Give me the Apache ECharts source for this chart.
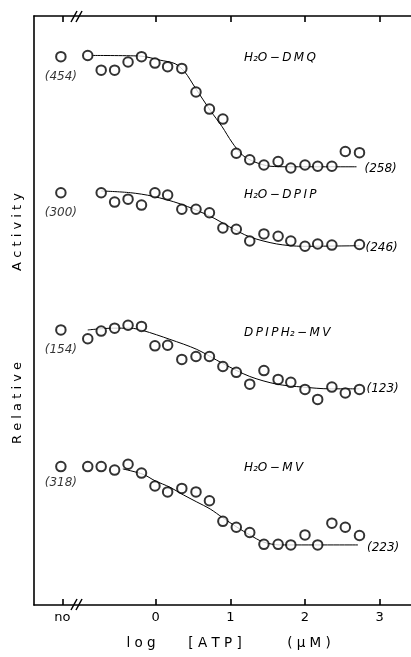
<!DOCTYPE html>
<html><head><meta charset="utf-8">
<script src="https://cdn.jsdelivr.net/npm/echarts@6/dist/echarts.min.js"></script>
<style>html,body{margin:0;padding:0;background:#fff}#c{width:411px;height:657px}</style>
</head><body><div id="c"></div>
<script>
// log[ATP] (µM) of the measured points (shared by all four assays)
const logATP = [-0.91,-0.73,-0.55,-0.37,-0.19,-0.01,0.16,0.35,0.54,0.72,0.90,1.08,1.26,1.45,1.64,1.81,2.00,2.17,2.36,2.54,2.73];
const noATPx = -1.27;
const xTickValues = [-1.25, 0, 1, 2, 3];
const xTickLabels = ['no', '0', '1', '2', '3'];

const seriesNames = ['H\u2082O\u2009\u2212\u2009D\u2009M\u2009Q', 'H\u2082O\u2009\u2212\u2009D\u2009P\u2009I\u2009P', 'D\u2009P\u2009I\u2009P\u2009H\u2082\u2009\u2212\u2009M\u2009V', 'H\u2082O\u2009\u2212\u2009M\u2009V'];
const noATPLabels = ['(454)', '(300)', '(154)', '(318)'];
const endLabels = ['(258)', '(246)', '(123)', '(223)'];
const xNameParts = ['l o g', '[ A T P ]', '( \u00b5 M )'];

// relative activity (arbitrary stacked units, 0-100 of the frame)
const noATPValues = [93.1, 70.0, 46.7, 23.5];
const dmqValues   = [93.3,90.8,90.8,92.2,93.1,92.0,91.4,91.1,87.1,84.2,82.5,76.7,75.6,74.7,75.3,74.2,74.7,74.5,74.5,77.0,76.8];
const dpipValues  = [null,70.0,68.4,68.9,67.9,70.0,69.6,67.2,67.2,66.6,64.0,63.8,61.8,63.0,62.6,61.8,60.9,61.3,61.1,null,61.2];
const mvdValues   = [45.2,46.5,47.0,47.5,47.3,44.0,44.1,41.7,42.2,42.2,40.5,39.5,37.5,39.8,38.3,37.8,36.6,34.9,37.0,36.0,36.6];
const mvValues    = [23.5,23.5,22.9,23.9,22.4,20.2,19.2,19.8,19.2,17.7,14.2,13.2,12.3,10.3,10.3,10.2,11.9,10.2,13.9,13.2,11.8];

// fitted curves
const dmqFitX = [-0.85,-0.21,0.06,0.26,0.39,0.53,0.73,0.89,1.02,1.16,1.33,1.53,1.80,2.69];
const dmqFitY = [93.3,93.2,92.5,91.9,90.5,87.8,84.0,81.2,78.6,76.4,75.2,74.5,74.4,74.4];
const dpipFitX = [-0.73,-0.34,-0.04,0.33,0.73,0.99,1.26,1.62,1.97,2.73];
const dpipFitY = [70.3,70.0,69.4,68.1,66.0,64.2,62.5,61.3,60.9,61.0];
const mvdFitX = [-0.91,-0.57,-0.34,-0.17,0.19,0.55,0.90,1.26,1.62,1.97,2.33,2.73];
const mvdFitY = [46.7,47.0,47.0,46.6,45.1,43.4,41.0,38.8,37.5,37.0,36.7,36.7];
const mvFitX = [-0.44,-0.17,-0.01,0.19,0.37,0.55,0.73,0.90,1.09,1.26,1.44,1.66,2.71];
const mvFitY = [23.1,22.2,21.1,20.0,18.7,17.5,16.3,14.8,13.2,11.9,10.7,10.2,10.2];

const allValues = [dmqValues, dpipValues, mvdValues, mvValues];
const allFitX = [dmqFitX, dpipFitX, mvdFitX, mvFitX];
const allFitY = [dmqFitY, dpipFitY, mvdFitY, mvFitY];
const noLabelDistance = [8, 8, 8, 5];
const endLabelDistance = [8, 6, 7, 9];
const endLabelOffsetY = [2, 2, 0, 3];
const nameY = [58, 195, 333, 468];
const xNameCenters = [141, 215, 309];

const FONT = 'DejaVu Sans';
const chart = echarts.init(document.getElementById('c'), null, {renderer: 'canvas'});

const series = [];
allValues.forEach((vals, k) => {
  series.push({
    type: 'line', data: allFitX[k].map((x, i) => [x, allFitY[k][i]]),
    showSymbol: false, symbol: 'none', smooth: 0.3,
    lineStyle: {color: '#000', width: 1}, z: 2, silent: true,
    endLabel: {show: true, formatter: endLabels[k], distance: endLabelDistance[k], offset: [0, endLabelOffsetY[k]],
      color: '#000', fontStyle: 'italic', fontSize: 12, fontFamily: FONT}
  });
  const pts = [];
  pts.push({value: [noATPx, noATPValues[k]], label: {show: true, position: 'bottom', distance: noLabelDistance[k],
    formatter: noATPLabels[k], color: '#000', fontStyle: 'italic', fontSize: 12, fontFamily: FONT}});
  vals.forEach((v, i) => { if (v !== null) pts.push({value: [logATP[i], v]}); });
  series.push({
    type: 'scatter', data: pts, symbol: 'circle', symbolSize: 9.5, z: 5, silent: true,
    itemStyle: {color: '#fff', borderColor: '#000', borderWidth: 2}
  });
});

const axisCommon = {
  type: 'value', min: -1.63, max: 3.42,
  axisLine: {show: true, onZero: false, lineStyle: {color: '#000', width: 1.6}},
  axisTick: {show: true, inside: true, length: 6, customValues: xTickValues, lineStyle: {color: '#000', width: 1.6}},
  splitLine: {show: false}
};

const graphic = [];
// axis breaks
[[610, 599], [22, 11]].forEach(([yb, yt]) => {
  graphic.push({type: 'line', shape: {x1: 71, y1: yb, x2: 77, y2: yt}, style: {stroke: '#000', lineWidth: 1.5}});
  graphic.push({type: 'line', shape: {x1: 76, y1: yb, x2: 82, y2: yt}, style: {stroke: '#000', lineWidth: 1.5}});
});
seriesNames.forEach((n, k) => {
  graphic.push({type: 'text', x: 244, y: nameY[k], style: {text: n, fill: '#000', fontSize: 12, fontStyle: 'italic',
    fontFamily: FONT, align: 'left', verticalAlign: 'middle'}});
});
graphic.push({type: 'text', x: 18, y: 232, rotation: Math.PI / 2, style: {text: 'A c t i v i t y', fill: '#000',
  fontSize: 13, fontFamily: FONT, align: 'center', verticalAlign: 'middle'}});
graphic.push({type: 'text', x: 18, y: 403, rotation: Math.PI / 2, style: {text: 'R e l a t i v e', fill: '#000',
  fontSize: 13, fontFamily: FONT, align: 'center', verticalAlign: 'middle'}});
xNameParts.forEach((t, i) => {
  graphic.push({type: 'text', x: xNameCenters[i], y: 643, style: {text: t, fill: '#000',
    fontSize: 13.5, fontFamily: FONT, align: 'center', verticalAlign: 'middle'}});
});

chart.setOption({
  animation: false,
  backgroundColor: '#fff',
  grid: {left: 34, right: 0, top: 16, bottom: 52, containLabel: false},
  xAxis: [
    Object.assign({}, axisCommon, {position: 'bottom',
      axisLabel: {show: true, customValues: xTickValues, margin: 6, color: '#000', fontSize: 13, fontFamily: FONT,
        formatter: v => { const i = xTickValues.findIndex(t => Math.abs(t - v) < 1e-6); return i >= 0 ? xTickLabels[i] : ''; }}}),
    Object.assign({}, axisCommon, {position: 'top', axisLabel: {show: false}})
  ],
  yAxis: {type: 'value', min: 0, max: 100, position: 'left',
    axisLine: {show: true, onZero: false, lineStyle: {color: '#000', width: 1.6}},
    axisTick: {show: false}, axisLabel: {show: false}, splitLine: {show: false}},
  series: series,
  graphic: graphic
});
</script></body></html>
